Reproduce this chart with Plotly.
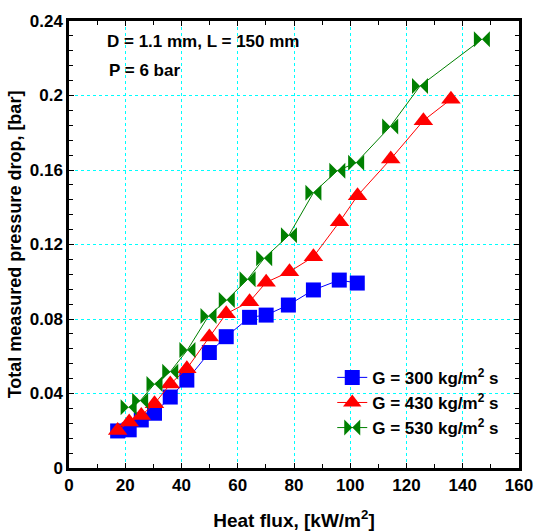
import plotly.graph_objects as go

# Data
x_g300 = [17.3, 21.4, 25.7, 30.4, 36.0, 41.9, 49.9, 55.9, 64.2, 70.1, 78.0, 86.9, 96.1, 102.5]
y_g300 = [0.0199, 0.0205, 0.0258, 0.0294, 0.0381, 0.0472, 0.0620, 0.0705, 0.0809, 0.0821, 0.0875, 0.0956, 0.1009, 0.0993]

x_g430 = [17.3, 21.4, 25.7, 30.4, 36.0, 41.9, 49.9, 55.9, 64.2, 70.1, 78.4, 86.9, 96.2, 102.6, 114.4, 126.0, 135.8]
y_g430 = [0.0201, 0.0247, 0.0282, 0.0345, 0.0451, 0.0533, 0.0703, 0.0828, 0.0893, 0.0997, 0.1054, 0.1134, 0.1322, 0.1462, 0.1659, 0.1865, 0.1980]

x_g530 = [21.2, 25.3, 30.4, 36.0, 42.1, 49.6, 56.1, 63.5, 69.4, 78.2, 86.9, 95.4, 102.1, 114.2, 124.8, 146.8]
y_g530 = [0.0326, 0.0361, 0.0451, 0.0517, 0.0634, 0.0816, 0.0902, 0.1013, 0.1126, 0.1250, 0.1478, 0.1596, 0.1639, 0.1833, 0.2051, 0.2302]

series_names = ["G = 300 kg/m<sup>2</sup> s", "G = 430 kg/m<sup>2</sup> s", "G = 530 kg/m<sup>2</sup> s"]
x_ticks = [0, 20, 40, 60, 80, 100, 120, 140, 160]
y_ticks = [0, 0.04, 0.08, 0.12, 0.16, 0.2, 0.24]
y_tick_text = ["0", "0.04", "0.08", "0.12", "0.16", "0.2", "0.24"]

FONT = "Arial, Liberation Sans, sans-serif"

fig = go.Figure()
fig.add_trace(go.Scatter(x=x_g300, y=y_g300, mode="lines+markers", name=series_names[0],
                         line=dict(color="#0000FF", width=1),
                         marker=dict(symbol="square", size=15, color="#0000FF")))
fig.add_trace(go.Scatter(x=x_g430, y=y_g430, mode="lines+markers", name=series_names[1],
                         line=dict(color="#FF0000", width=1),
                         marker=dict(symbol="triangle-up", size=17, color="#FF0000")))
fig.add_trace(go.Scatter(x=x_g530, y=y_g530, mode="lines+markers", name=series_names[2],
                         line=dict(color="#008000", width=1),
                         marker=dict(symbol="bowtie", size=16, color="#008000")))

axis_common = dict(
    showline=True, linecolor="black", linewidth=2.5, mirror="allticks",
    ticks="inside", ticklen=5, tickcolor="black", tickwidth=1,
    showgrid=True, gridcolor="#00FFFF", gridwidth=1, griddash="dot",
    zeroline=False, automargin=False,
    tickfont=dict(family=FONT, size=17, color="black", weight="bold"),
)

fig.update_xaxes(range=[0, 160], tickvals=x_ticks, ticktext=[str(v) for v in x_ticks],
                 minor=dict(dtick=10, ticks="inside", ticklen=4, tickcolor="black", showgrid=False),
                 title=dict(text="Heat flux, [kW/m<sup>2</sup>]", standoff=20,
                            font=dict(family=FONT, size=19, color="black", weight="bold")),
                 **axis_common)
fig.update_yaxes(range=[0, 0.24], tickvals=y_ticks, ticktext=y_tick_text,
                 minor=dict(dtick=0.008, ticks="inside", ticklen=4, tickcolor="black", showgrid=False),
                 title=dict(text="Total measured pressure drop, [bar]", standoff=4,
                            font=dict(family=FONT, size=18, color="black", weight="bold")),
                 **axis_common)

fig.add_annotation(x=0.08, y=0.955, xref="paper", yref="paper", xanchor="left", yanchor="middle",
                   text="D = 1.1 mm, L = 150 mm", showarrow=False,
                   font=dict(family=FONT, size=17, color="black", weight="bold"))
fig.add_annotation(x=0.085, y=0.89, xref="paper", yref="paper", xanchor="left", yanchor="middle",
                   text="P = 6 bar", showarrow=False,
                   font=dict(family=FONT, size=17, color="black", weight="bold"))

fig.update_layout(
    width=535, height=532,
    margin=dict(l=69, r=16, t=21, b=64),
    paper_bgcolor="white", plot_bgcolor="white",
    showlegend=True,
    legend=dict(x=0.585, y=0.242, xanchor="left", yanchor="top",
                bgcolor="rgba(0,0,0,0)", borderwidth=0,
                font=dict(family=FONT, size=17, color="black", weight="bold"),
                itemwidth=30, tracegroupgap=0),
)

fig.write_html("out.html")
